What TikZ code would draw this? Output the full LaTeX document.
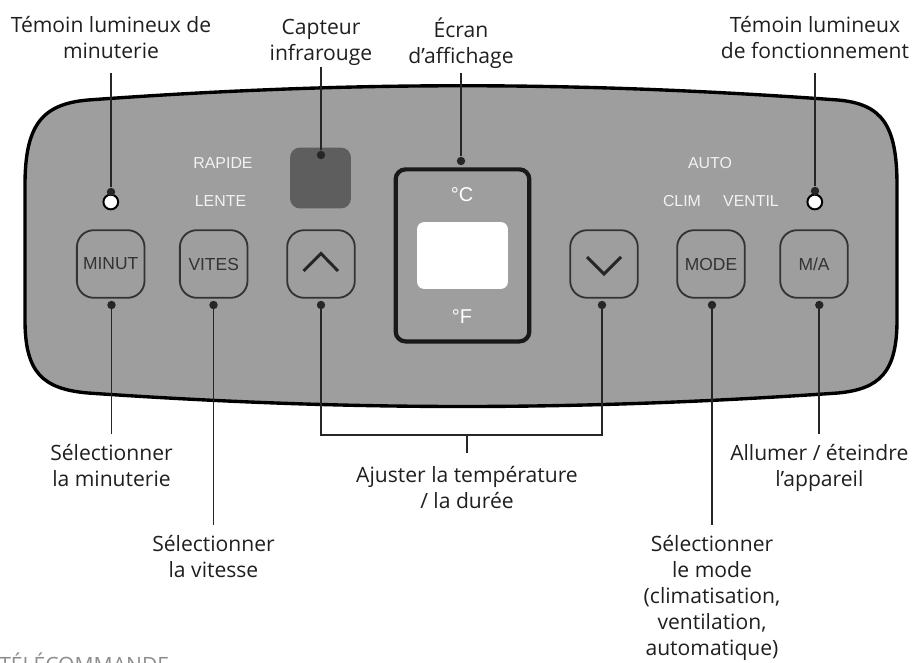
\documentclass[tikz,border=0pt]{standalone}
\usepackage{fontspec}
\setmainfont{Open Sans}
\newfontfamily\panelfont{Liberation Sans}
\usetikzlibrary{positioning}

\begin{document}
\begin{tikzpicture}[
  x=0.025cm, y=-0.025cm,
  button/.style={
    rectangle, draw=black!80, line width=1.3pt, rounded corners=12pt,
    minimum size=1.69cm, inner sep=0pt,
    font=\panelfont\fontsize{12.4}{13}\selectfont, text=black!80
  },
  silk/.style={font=\panelfont\fontsize{11.3}{12}\selectfont, text=white!95!black},
  chevron/.style={line width=2.1pt, black!85},
  spot/.style={circle, fill=black!85, inner sep=0pt, minimum size=6pt},
  led/.style={circle, draw=black, line width=1.4pt, fill=white, inner sep=0pt, minimum size=10.5pt},
  topnote/.style={
    align=center, anchor=south, text depth=0pt, inner ysep=10.4pt,
    font=\fontsize{15}{18.45}\selectfont, text=black!88
  },
  note/.style={
    align=center, anchor=north, inner ysep=7.5pt,
    font=\fontsize{15}{18.45}\selectfont, text=black!88
  },
  leader/.style={line width=1.25pt, black!85}
]
\useasboundingbox (0,0) rectangle (916,663);

% panel
\draw[line width=2.4pt, fill=black!38]
  (25,185) .. controls (25,125) and (42,104) .. (88,100)
  .. controls (350,81) and (575,81) .. (838,100)
  .. controls (882,104) and (897,125) .. (897,185) -- (897,320)
  .. controls (897,372) and (880,389) .. (838,393)
  .. controls (575,411) and (350,411) .. (88,393)
  .. controls (42,389) and (25,372) .. (25,320) -- cycle;

% sensor and display
\node (sensor) [rectangle, fill=black!63, rounded corners=7pt, minimum size=1.52cm] at (320.5,178) {};
\node (screen) [rectangle, draw=black!90, line width=3pt, rounded corners=7pt,
  minimum width=3.34cm, minimum height=4.3cm] at (462.5,255.4) {};
\node (window) [rectangle, fill=white, rounded corners=5pt,
  minimum width=2.27cm, minimum height=1.67cm] at (462.5,255.5) {};
\node (degC) [silk, font=\panelfont\fontsize{14.2}{15}\selectfont, text=white] at (462,195) {°C};
\node (degF) [silk, font=\panelfont\fontsize{14.2}{15}\selectfont, text=white] at (462,317) {°F};

% printed marks
\node (tFast) [silk] at (223,163) {RAPIDE};
\node (tSlow) [silk] at (220.5,201.5) {LENTE};
\node (tAuto) [silk] at (710,163) {AUTO};
\node (tCool) [silk] at (682,201) {CLIM};
\node (tFan) [silk] at (751,201) {VENTIL};

% buttons
\node (btnTimer) [button] at (110.7,264) {MINUT};
\node (btnSpeed) [button] at (213.7,264) {VITES};
\node (btnUp) [button] at (321,264) {};
\node (btnDown) [button] at (604,264) {};
\node (btnMode) [button] at (711,264) {MODE};
\node (btnPower) [button] at (814,264) {M/A};
\draw[chevron] ([shift={(-17.5,7)}]btnUp.center) -- ([shift={(0,-10.5)}]btnUp.center)
  -- ([shift={(17,7)}]btnUp.center);
\draw[chevron] ([shift={(-17,-7)}]btnDown.center) -- ([shift={(0,10)}]btnDown.center)
  -- ([shift={(17,-7)}]btnDown.center);

% lights
\node (ledTimer) [led] at (110.8,202) {};
\node (ledRun) [led] at (814.8,202) {};

% pins
\node (pTimer) [spot] at (111,192) {};
\node (pSensor) [spot] at (321,155) {};
\node (pScreen) [spot] at (461,161) {};
\node (pRun) [spot] at (815,191) {};
\node (pSetTimer) [spot] at (111.5,305) {};
\node (pSetSpeed) [spot] at (213.5,305) {};
\node (pUp) [spot] at (321,305) {};
\node (pDown) [spot] at (602,305) {};
\node (pSetMode) [spot] at (712,305) {};
\node (pPower) [spot] at (819.3,305) {};

% callouts above
\node (lTimer) [topnote] at (111,73) {Témoin lumineux de\\minuterie};
\node (lSensor) [topnote, inner ysep=4pt] at (321,66.7) {Capteur\\infrarouge};
\node (lScreen) [topnote, inner ysep=6.9pt] at (461,73) {Écran\\d’affichage};
\node (lRun) [topnote] at (815,73) {Témoin lumineux\\de fonctionnement};

\draw[leader] (lTimer) -- (pTimer);
\draw[leader] (lSensor) -- (pSensor);
\draw[leader] (lScreen) -- (pScreen);
\draw[leader] (lRun) -- (pRun);

% callouts below
\node (lSetTimer) [note] at (111.5,434) {Sélectionner\\la minuterie};
\node (lSetSpeed) [note, inner ysep=7pt] at (213.5,525) {Sélectionner\\la vitesse};
\node (lAdjust) [note, inner ysep=9.5pt] at (467,453) {Ajuster la température\\/ la durée};
\node (lSetMode) [note, inner ysep=7pt] at (712,525)
  {Sélectionner\\le mode\\(climatisation,\\ventilation,\\automatique)};
\node (lPower) [note] at (819.3,434) {Allumer / éteindre\\l’appareil};

\coordinate (kUp) at (321,435);
\coordinate (kDown) at (602,435);

\draw[leader] (pSetTimer) -- (lSetTimer);
\draw[leader] (pSetSpeed) -- (lSetSpeed);
\draw[leader] (pUp) -- (kUp) -- (kDown) -- (pDown);
\draw[leader] (lAdjust) -- (lAdjust |- kUp);
\draw[leader] (pSetMode) -- (lSetMode);
\draw[leader] (pPower) -- (lPower);

\node (title) [anchor=base west, inner sep=0pt, text=black!45,
  font=\fontsize{15}{18}\selectfont] at (-1,672) {TÉLÉCOMMANDE};
\end{tikzpicture}
\end{document}
